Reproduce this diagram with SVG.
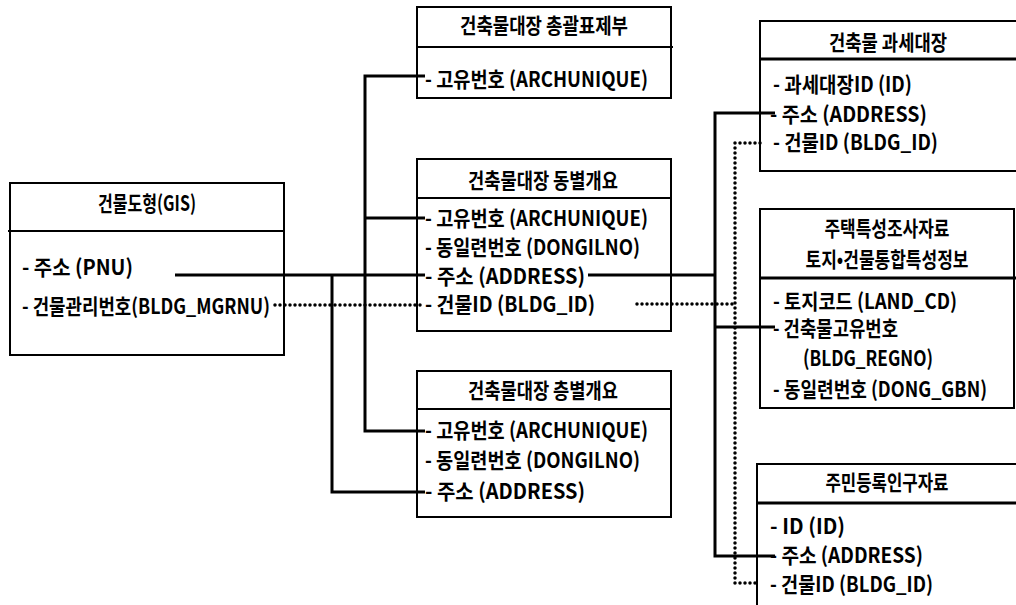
<svg xmlns="http://www.w3.org/2000/svg" width="1016" height="605" viewBox="0 0 1016 605">
<style>
.box{fill:#fff;stroke:#000;stroke-width:2}
.sep{stroke:#000;stroke-width:2;fill:none}
.sep3{stroke:#000;stroke-width:3;fill:none}
text{font-family:"Noto Sans CJK KR","Noto Sans",sans-serif;font-weight:bold;font-size:21px;fill:#000}
.h{text-anchor:middle}
.solid{fill:none;stroke:#000;stroke-width:3}
.dot{fill:none;stroke:#000;stroke-width:3.5;stroke-linecap:round;stroke-dasharray:0 5}
</style>
<rect width="1016" height="605" fill="#fff"/>

<g id="gis">
<rect class="box" x="10" y="183" width="274" height="172"/>
<line class="sep" x1="8" y1="231" x2="284" y2="231"/>
<text class="h" x="147" y="211" textLength="98" lengthAdjust="spacingAndGlyphs">건물도형(GIS)</text>
<text x="22" y="275" textLength="111" lengthAdjust="spacingAndGlyphs">- 주소  (PNU)</text>
<text x="22" y="314" textLength="248" lengthAdjust="spacingAndGlyphs">- 건물관리번호(BLDG_MGRNU)</text>
</g>

<g id="chonggwal">
<rect class="box" x="417" y="7" width="254" height="91"/>
<line class="sep" x1="417" y1="47" x2="673" y2="47"/>
<text class="h" x="544" y="33" textLength="168" lengthAdjust="spacingAndGlyphs">건축물대장  총괄표제부</text>
<text x="425" y="87" textLength="223" lengthAdjust="spacingAndGlyphs">- 고유번호  (ARCHUNIQUE)</text>
</g>

<g id="dongbyeol">
<rect class="box" x="417" y="159" width="254" height="172"/>
<line class="sep" x1="417" y1="198" x2="671" y2="198"/>
<text class="h" x="543" y="188" textLength="150" lengthAdjust="spacingAndGlyphs">건축물대장  동별개요</text>
<text x="425" y="226" textLength="223" lengthAdjust="spacingAndGlyphs">- 고유번호  (ARCHUNIQUE)</text>
<text x="425" y="255" textLength="215" lengthAdjust="spacingAndGlyphs">- 동일련번호  (DONGILNO)</text>
<text x="425" y="284" textLength="160" lengthAdjust="spacingAndGlyphs">- 주소  (ADDRESS)</text>
<text x="425" y="312" textLength="170" lengthAdjust="spacingAndGlyphs">- 건물ID  (BLDG_ID)</text>
</g>

<g id="cheungbyeol">
<rect class="box" x="417" y="371" width="254" height="146"/>
<line class="sep" x1="417" y1="409" x2="671" y2="409"/>
<text class="h" x="543" y="398" textLength="150" lengthAdjust="spacingAndGlyphs">건축물대장  층별개요</text>
<text x="425" y="438" textLength="223" lengthAdjust="spacingAndGlyphs">- 고유번호  (ARCHUNIQUE)</text>
<text x="425" y="468" textLength="215" lengthAdjust="spacingAndGlyphs">- 동일련번호  (DONGILNO)</text>
<text x="425" y="499" textLength="160" lengthAdjust="spacingAndGlyphs">- 주소  (ADDRESS)</text>
</g>

<g id="gwase">
<rect class="box" x="760" y="21" width="270" height="150"/>
<line class="sep3" x1="760" y1="59" x2="1030" y2="59"/>
<text class="h" x="888" y="50" textLength="118" lengthAdjust="spacingAndGlyphs">건축물  과세대장</text>
<text x="773" y="92" textLength="139" lengthAdjust="spacingAndGlyphs">- 과세대장ID  (ID)</text>
<text x="770" y="122" textLength="157" lengthAdjust="spacingAndGlyphs">- 주소  (ADDRESS)</text>
<text x="773" y="150" textLength="165" lengthAdjust="spacingAndGlyphs">- 건물ID  (BLDG_ID)</text>
</g>

<g id="jutaek">
<rect class="box" x="760" y="209" width="254" height="199"/>
<line class="sep3" x1="760" y1="278" x2="1016" y2="278"/>
<text class="h" x="887" y="236" textLength="125" lengthAdjust="spacingAndGlyphs">주택특성조사자료</text>
<text class="h" x="887" y="267" textLength="163" lengthAdjust="spacingAndGlyphs">토지•건물통합특성정보</text>
<text x="773" y="309" textLength="184" lengthAdjust="spacingAndGlyphs">- 토지코드  (LAND_CD)</text>
<text x="773" y="336" textLength="125" lengthAdjust="spacingAndGlyphs">- 건축물고유번호</text>
<text x="803" y="366" textLength="130" lengthAdjust="spacingAndGlyphs">(BLDG_REGNO)</text>
<text x="773" y="397" textLength="214" lengthAdjust="spacingAndGlyphs">- 동일련번호  (DONG_GBN)</text>
</g>

<g id="jumin">
<rect class="box" x="757" y="464" width="273" height="160"/>
<line class="sep3" x1="757" y1="503" x2="1030" y2="503"/>
<text class="h" x="887" y="490" textLength="123" lengthAdjust="spacingAndGlyphs">주민등록인구자료</text>
<text x="770" y="534" textLength="75" lengthAdjust="spacingAndGlyphs">- ID  (ID)</text>
<text x="770" y="563" textLength="153" lengthAdjust="spacingAndGlyphs">- 주소  (ADDRESS)</text>
<text x="770" y="592" textLength="163" lengthAdjust="spacingAndGlyphs">- 건물ID  (BLDG_ID)</text>
</g>

<g id="connectors">
<path class="solid" d="M175,275 H425"/>
<path class="solid" d="M332,275 V492 H425"/>
<path class="solid" d="M425,76 H365 V431 H425"/>
<path class="solid" d="M365,218 H425"/>
<path class="solid" d="M588,275 H715"/>
<path class="solid" d="M775,113 H715 V556 H775"/>
<path class="solid" d="M715,327 H775"/>
<path class="dot" d="M275,305 H425"/>
<path class="dot" d="M637,304 H735"/>
<path class="dot" d="M760,143 H735 V583 H757"/>
</g>
</svg>
